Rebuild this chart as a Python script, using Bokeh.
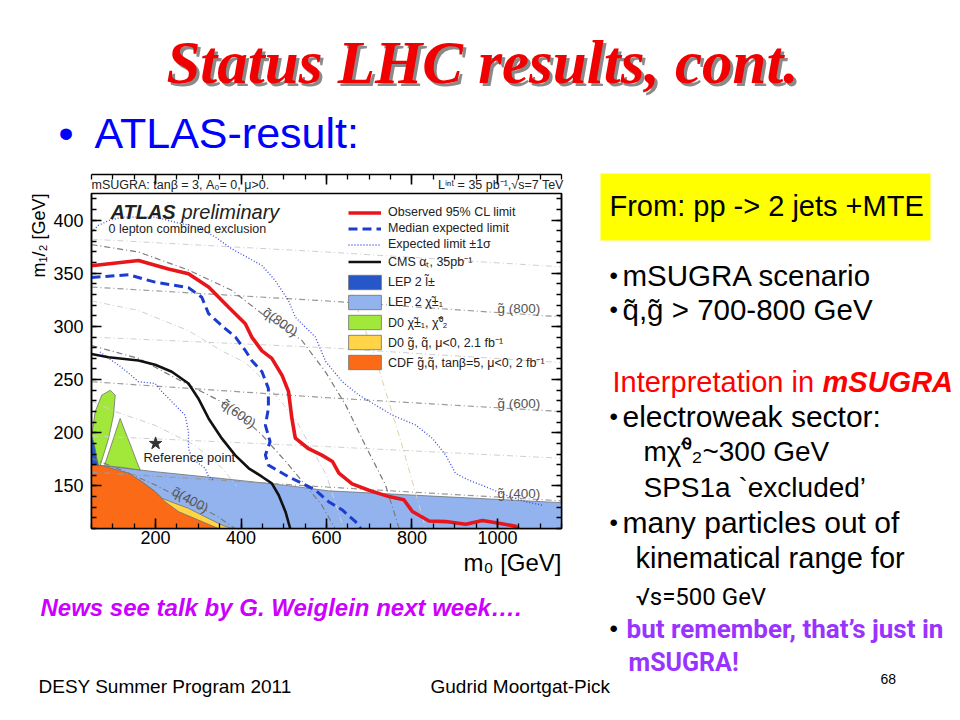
import math
from bokeh.plotting import figure
from bokeh.layouts import column, row
from bokeh.models import (Label, Legend, LegendItem, LinearAxis, SingleIntervalTicker,
                          CustomJSTickFormatter, Title, BoxAnnotation, Range1d, Spacer)
from bokeh.embed import file_html
from bokeh.resources import INLINE

# ---------------- data (m0 [GeV], m1/2 [GeV]) ----------------
obs_m0 = [50, 160, 230, 277, 324, 371, 410, 425, 449, 472, 496, 511, 519, 527, 558, 589, 614, 629, 660, 699, 746, 781, 801, 840, 879, 926, 965, 1004, 1043, 1050]
obs_m12 = [357, 362, 354, 349.5, 337, 318, 302.5, 290, 277, 270, 254, 239, 213.5, 195, 185, 179, 173, 162, 152, 146, 140, 137, 126, 117, 116.5, 114, 117.5, 115, 112, 110]

med_m0 = [50, 137, 168, 199, 277, 308, 324, 363, 387, 410, 425, 449, 464, 464, 457, 468, 457, 464, 511, 574, 605, 637, 668, 680]
med_m12 = [346, 348.6, 345, 341.7, 336.4, 327.5, 312, 298, 290, 277.4, 268, 257.4, 241.7, 223, 207, 191.6, 179, 169.6, 158.7, 146.2, 135.2, 127.4, 116.4, 110]

up_m0 = [50, 66, 90, 121, 199, 246, 300, 340, 378, 449, 480, 511, 527, 574, 598, 637, 676, 715, 754, 809, 848, 879, 902, 933, 972, 1019, 1066, 1105]
up_m12 = [389, 395, 399.6, 402.7, 402.7, 398, 393.3, 384, 373, 357.3, 343.2, 324.4, 308.7, 290, 267, 248, 235.4, 226, 216.6, 207.2, 194.7, 179, 161.8, 155.5, 149.3, 141.5, 135.2, 132]

low_m0 = [70, 90, 113, 137, 160, 199, 215, 238, 269, 277, 277, 285, 316, 324, 335]
low_m12 = [276, 270, 263.7, 256, 248, 246.4, 238.6, 229.2, 216.6, 201, 185.3, 176, 166.6, 158.7, 156]

cms_m0 = [50, 90, 160, 199, 238, 277, 300, 324, 355, 386, 418, 449, 472, 488, 504, 515]
cms_m12 = [274, 271, 268, 264, 257.4, 246.4, 232.3, 213.5, 194.7, 179, 166.6, 158.7, 152.4, 141.5, 125.8, 110]

lep_chi_m0 = [50, 74, 199, 355, 511, 605, 1150, 1150, 50]
lep_chi_m12 = [170, 169.2, 163.4, 157, 150.3, 145.4, 134.3, 110, 110]

d0_gq_m0 = [160, 195, 215, 246, 277, 316, 355, 378, 160]
d0_gq_m12 = [156, 146, 138.4, 133.6, 129, 121, 113.3, 110, 110]

cdf_m0 = [50, 74, 137, 168, 199, 222, 254, 300, 347, 50]
cdf_m12 = [169.2, 169.2, 162, 154, 144.6, 135.2, 125.8, 118, 110, 110]

d0_chi_a_m0 = [50.7, 58.6, 74, 94, 105.5, 101.5, 90, 78, 70.4, 50.7]
d0_chi_a_m12 = [198, 219.8, 235.4, 240, 235.4, 216.6, 194.7, 179, 169.2, 169.2]
d0_chi_b_m0 = [80.4, 117, 129, 144.4, 156, 164, 120]
d0_chi_b_m12 = [169.2, 213.5, 201, 185.3, 172.8, 165, 167.5]

lep_sl_m0 = [50, 57, 62.4, 66.4, 50]
lep_sl_m12 = [198, 188.4, 176, 169.2, 169.2]

sq800_m0 = [50, 160, 277, 378, 449, 542, 598, 645, 691, 738, 770]
sq800_m12 = [377, 370, 353, 334, 312, 287, 257, 226, 188, 151, 110]
sq600_m0 = [50, 160, 277, 355, 394, 449, 511, 589, 620]
sq600_m12 = [282, 270, 245, 229, 218, 198, 170, 132, 110]
sq400_m0 = [50, 120, 199, 277, 340, 386]
sq400_m12 = [176, 165, 151, 135, 122.6, 110]

gl_m0 = [50, 600, 1150]
gl800_m12 = [337, 324, 309]
gl600_m12 = [248, 233, 220]
gl400_m12 = [163, 149, 136]
gl900_m12 = [382, 370, 356]
gl700_m12 = [290, 280, 266]
gl500_m12 = [197, 187, 176]

aux1_m0 = [50, 160, 277, 355, 410, 449, 527, 600, 640]
aux1_m12 = [324, 315, 296, 277, 266, 251, 213, 160, 110]
aux2_m0 = [50, 105, 199, 293, 355, 390]
aux2_m12 = [230, 220, 207, 188, 167, 150]
aux3_m0 = [660, 715, 777, 832]
aux3_m12 = [330, 270, 188, 110]

ref_m0 = [200]
ref_m12 = [190]

legend_lines = ["Observed 95% CL limit", "Median expected limit",
                "Expected limit \u00b11\u03c3", "CMS \u03b1\u209c, 35pb\u207b\u00b9"]
legend_boxes = ["LEP 2 l\u0303\u00b1", "LEP 2 \u03c7\u0303\u00b1\u2081",
                "D0 \u03c7\u0303\u00b1\u2081, \u03c7\u0303\u2070\u2082",
                "D0 g\u0303, q\u0303, \u03bc<0, 2.1 fb\u207b\u00b9",
                "CDF g\u0303,q\u0303, tan\u03b2=5, \u03bc<0, 2 fb\u207b\u00b9"]

SANS = "Liberation Sans"
W, H = 952, 712
SPLIT_X = 592      # chart column / right panel
TOP_Y = 165        # title band bottom
BOT_Y = 582        # bottom band top
FL, FT, FR, FB = 91, 193, 561, 528   # chart frame edges (page pixels)


def text_fig(x0, x1, y0, y1):
    f = figure(width=x1 - x0, height=y1 - y0, x_range=Range1d(x0, x1), y_range=Range1d(y1, y0),
               output_backend="svg", toolbar_location=None, min_border=0,
               x_axis_location=None, y_axis_location=None)
    f.outline_line_color = None
    f.xgrid.visible = False
    f.ygrid.visible = False
    f.background_fill_color = "white"
    f.border_fill_color = "white"
    return f


def put(f, X, Y, txt, size, color="black", font=SANS, style="normal", align="left",
        baseline="middle"):
    f.add_layout(Label(x=X, y=Y, text=txt, text_font=font, text_font_size=f"{size}px",
                       text_color=color, text_font_style=style, text_align=align,
                       text_baseline=baseline))


# ---------------- chart figure ----------------
p = figure(width=SPLIT_X, height=BOT_Y - TOP_Y, x_range=(50, 1150), y_range=(110, 425),
           output_backend="svg", toolbar_location=None,
           min_border_left=FL, min_border_right=SPLIT_X - FR,
           min_border_top=FT - TOP_Y, min_border_bottom=BOT_Y - FB)
p.background_fill_color = "white"
p.border_fill_color = "white"
p.outline_line_color = "black"
p.outline_line_width = 1.5
p.xgrid.visible = False
p.ygrid.visible = False

hdr = ("mSUGRA: tan\u03b2 = 3, A\u2080= 0, \u03bc>0." + "\u2003" * 13 + "\u2002"
       + "L\u2071\u207f\u1d57 = 35 pb\u207b\u00b9,\u221as=7 TeV")
p.add_layout(Title(text=hdr, align="left", text_font=SANS, text_font_size="12.5px",
                   text_font_style="normal", text_color="#222222", standoff=3, offset=0), "above")


def style_axis(ax, labels=True):
    ax.major_tick_in = 10
    ax.major_tick_out = 0
    ax.minor_tick_in = 5
    ax.minor_tick_out = 0
    ax.axis_line_width = 1.5
    ax.major_tick_line_width = 1.6
    ax.minor_tick_line_width = 1.3
    ax.major_tick_line_color = "black"
    ax.minor_tick_line_color = "black"
    ax.major_label_text_font = SANS
    ax.major_label_text_font_size = "18px"
    ax.major_label_text_color = "black"
    if not labels:
        ax.formatter = CustomJSTickFormatter(code="return ''")
        ax.major_label_standoff = 0


xa, ya = p.xaxis[0], p.yaxis[0]
xa.ticker = SingleIntervalTicker(interval=200, num_minor_ticks=4)
ya.ticker = SingleIntervalTicker(interval=50, num_minor_ticks=5)
style_axis(xa)
style_axis(ya)
xa.major_label_standoff = 2
ya.major_label_standoff = 8

top_ax = LinearAxis(ticker=SingleIntervalTicker(interval=200, num_minor_ticks=4))
right_ax = LinearAxis(ticker=SingleIntervalTicker(interval=50, num_minor_ticks=5))
style_axis(top_ax, labels=False)
style_axis(right_ax, labels=False)
p.add_layout(top_ax, "above")
p.add_layout(right_ax, "right")

# axis titles as side titles so that they sit at the axis ends
p.add_layout(Title(text="m\u2081/\u2082 [GeV]", align="right", text_font=SANS,
                   text_font_size="18px", text_font_style="normal", text_color="black",
                   standoff=3), "left")
p.add_layout(Title(text="m\u2080 [GeV]", align="right", text_font=SANS,
                   text_font_size="24px", text_font_style="normal", text_color="black",
                   standoff=0), "below")

# regions
edge = dict(line_color="#707070", line_width=0.8)
r_lepchi = p.patch(lep_chi_m0, lep_chi_m12, fill_color="#93b3ef", **edge)
r_d0gq = p.patch(d0_gq_m0, d0_gq_m12, fill_color="#ffd447", **edge)
r_cdf = p.patch(cdf_m0, cdf_m12, fill_color="#fa6a17", **edge)
r_d0chi = p.patch(d0_chi_a_m0, d0_chi_a_m12, fill_color="#a2e83a", **edge)
p.patch(d0_chi_b_m0, d0_chi_b_m12, fill_color="#a2e83a", **edge)
r_lepsl = p.patch(lep_sl_m0, lep_sl_m12, fill_color="#2557c8", **edge)

# mass contours
dd = "6 3 1 3"
for xs, ys in [(aux1_m0, aux1_m12), (aux2_m0, aux2_m12)]:
    p.line(xs, ys, line_color="#cfcfcf", line_width=1, line_dash=dd)
p.line(aux3_m0, aux3_m12, line_color="#e2cfa8", line_width=1, line_dash=dd)
for ys in [gl900_m12, gl700_m12, gl500_m12]:
    p.line(gl_m0, ys, line_color="#cfcfcf", line_width=1, line_dash=dd)
for ys in [gl800_m12, gl600_m12, gl400_m12]:
    p.line(gl_m0, ys, line_color="#9a9a9a", line_width=1.2, line_dash=dd)
for xs, ys in [(sq800_m0, sq800_m12), (sq600_m0, sq600_m12), (sq400_m0, sq400_m12)]:
    p.line(xs, ys, line_color="#7a7a7a", line_width=1.2, line_dash=dd)

# limits
r_up = p.line(up_m0, up_m12, line_color="#3949e0", line_width=1.3, line_dash="1 2")
p.line(low_m0, low_m12, line_color="#3949e0", line_width=1.3, line_dash="1 2")
r_cms = p.line(cms_m0, cms_m12, line_color="#111111", line_width=2.6)
r_med = p.line(med_m0, med_m12, line_color="#1c3ccf", line_width=3, line_dash="9 5")
r_obs = p.line(obs_m0, obs_m12, line_color="#e8161b", line_width=3.6)

p.scatter(ref_m0, ref_m12, marker="star", size=13, color="#333333")

leg_common = dict(padding=0, margin=0, border_line_alpha=0, background_fill_alpha=0,
                  label_text_font=SANS, label_text_font_size="12.5px",
                  label_text_color="#222222")
leg1 = Legend(items=[LegendItem(label=t, renderers=[r]) for t, r in
                     zip(legend_lines, [r_obs, r_med, r_up, r_cms])],
              location=(257, 258), glyph_width=33, glyph_height=13, label_height=13,
              spacing=2, label_standoff=7, **leg_common)
leg2 = Legend(items=[LegendItem(label=t, renderers=[r]) for t, r in
                     zip(legend_boxes, [r_lepsl, r_lepchi, r_d0chi, r_d0gq, r_cdf])],
              location=(253, 157), glyph_width=41, glyph_height=18, label_height=14,
              spacing=2, label_standoff=3, **leg_common)
p.add_layout(leg1)
p.add_layout(leg2)


def dtext(x, y, txt, size, color="#555555", style="normal", align="center", angle=0.0):
    p.add_layout(Label(x=x, y=y, text=txt, text_font=SANS, text_font_size=f"{size}px",
                       text_color=color, text_font_style=style, text_align=align,
                       text_baseline="middle", angle=angle))


dtext(492, 304, "q\u0303(800)", 13.5, angle=-0.62)
dtext(394, 218, "q\u0303(600)", 13.5, angle=-0.62)
dtext(281, 137, "q\u0303(400)", 13.5, angle=-0.5)
dtext(1000, 317, "g\u0303 (800)", 13.5, align="left")
dtext(1000, 228, "g\u0303 (600)", 13.5, align="left")
dtext(1000, 143, "g\u0303 (400)", 13.5, align="left")
dtext(279, 177, "Reference point", 13, color="#222222")
p.add_layout(Label(x=110 - FL, y=FB - 211, x_units="screen", y_units="screen", text="ATLAS",
                   text_font=SANS, text_font_size="20px", text_font_style="bold italic",
                   text_color="#222222", text_baseline="middle"))
p.add_layout(Label(x=181 - FL, y=FB - 211, x_units="screen", y_units="screen", text="preliminary",
                   text_font=SANS, text_font_size="20px", text_font_style="italic",
                   text_color="#222222", text_baseline="middle"))
p.add_layout(Label(x=108 - FL, y=FB - 228, x_units="screen", y_units="screen",
                   text="0 lepton combined exclusion", text_font=SANS, text_font_size="12.5px",
                   text_color="#222222", text_baseline="middle"))

# ---------------- title band ----------------
top = text_fig(0, W, 0, TOP_Y)
put(top, 485, 65, "Status LHC results, cont.", 61, color="#8a8a8a", font="Liberation Serif",
    style="bold italic", align="center", baseline="alphabetic")
put(top, 482, 62, "Status LHC results, cont.", 61, color="#f00000", font="Liberation Serif",
    style="bold italic", align="center", baseline="alphabetic")
put(top, 58, 132, "\u2022", 43, color="#0000ff")
put(top, 94, 132, "ATLAS-result:", 43, color="#0000ff")

# ---------------- right panel ----------------
BX, TX = 609, 622
rp = text_fig(SPLIT_X, W, TOP_Y, BOT_Y)
rp.add_layout(BoxAnnotation(left=600, right=930, top=173, bottom=240,
                            fill_color="#ffff00", fill_alpha=1, line_color=None))
put(rp, 609, 205, "From: pp -> 2 jets +MTE", 29)
put(rp, BX, 275, "\u2022", 24)
put(rp, TX, 275, "mSUGRA scenario", 29.5)
put(rp, BX, 309, "\u2022", 24)
put(rp, TX, 309, "q\u0303,g\u0303 > 700-800 GeV", 29.5)
put(rp, 612, 381, "Interpretation in", 29, color="#ff0000")
put(rp, 822, 381, "mSUGRA", 29, color="#ff0000", style="bold italic")
put(rp, BX, 416, "\u2022", 24)
put(rp, TX, 416, "electroweak sector:", 30)
put(rp, 643, 451, "m\u03c7\u0303\u2070\u2082~300 GeV", 28)
put(rp, 643, 487, "SPS1a `excluded\u2019", 28)
put(rp, BX, 522, "\u2022", 24)
put(rp, TX, 522, "many particles out of", 30)
put(rp, 635, 557, "kinematical range for", 29)

# ---------------- bottom band ----------------
bot = text_fig(0, W, BOT_Y, H)
put(bot, 635, 596, "\u221as=500 GeV", 24, font="Roboto")
put(bot, BX, 628, "\u2022", 24)
put(bot, TX + 4, 628, "but remember, that\u2019s just in", 26, color="#9933ff",
    font="Roboto", style="bold")
put(bot, 628, 662, "mSUGRA!", 25, color="#9933ff", font="Roboto", style="bold")
put(bot, 40, 607, "News see talk by G. Weiglein next week\u2026.", 24, color="#cc00ff",
    style="bold italic")
put(bot, 38, 686, "DESY Summer Program 2011", 19)
put(bot, 430, 686, "Gudrid Moortgat-Pick", 19)
put(bot, 880, 678, "68", 14)

layout = column(top, row(column(p, Spacer(width=SPLIT_X, height=0)), rp), bot)
open("out.html", "w").write(file_html(layout, INLINE))
